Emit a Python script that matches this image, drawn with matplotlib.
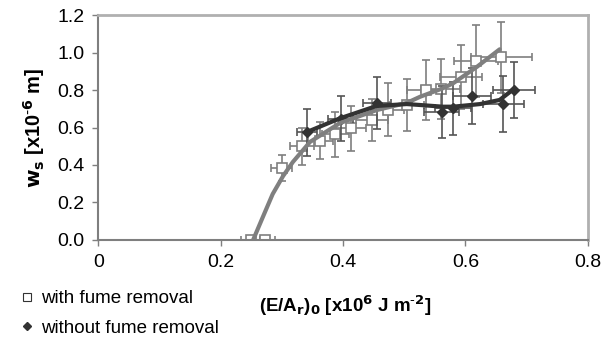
import matplotlib.pyplot as plt
from matplotlib.lines import Line2D

# with fume removal (open squares)
with_x = [0.249, 0.272, 0.300, 0.333, 0.363, 0.387, 0.413, 0.448, 0.473, 0.504, 0.536, 0.560, 0.593, 0.618, 0.659]
with_y = [0.0, 0.0, 0.385, 0.50, 0.53, 0.565, 0.595, 0.64, 0.695, 0.72, 0.80, 0.805, 0.87, 0.955, 0.975]
with_yerr = [0.0, 0.0, 0.07, 0.10, 0.10, 0.12, 0.12, 0.11, 0.14, 0.14, 0.16, 0.16, 0.17, 0.19, 0.19]
with_xerr = [0.015, 0.016, 0.017, 0.019, 0.021, 0.022, 0.024, 0.026, 0.027, 0.029, 0.031, 0.032, 0.034, 0.036, 0.05]

# without fume removal (filled diamonds)
without_x = [0.341, 0.396, 0.456, 0.561, 0.580, 0.611, 0.662, 0.679]
without_y = [0.575, 0.648, 0.732, 0.684, 0.702, 0.768, 0.725, 0.80]
without_yerr = [0.125, 0.12, 0.14, 0.14, 0.14, 0.15, 0.15, 0.15]
without_xerr = [0.017, 0.02, 0.023, 0.028, 0.029, 0.031, 0.033, 0.034]

# trend lines
trend_with_x = [0.253, 0.269, 0.285, 0.302, 0.318, 0.346, 0.395, 0.455, 0.504, 0.526, 0.563, 0.580, 0.619, 0.656]
trend_with_y = [0.0, 0.123, 0.245, 0.341, 0.416, 0.523, 0.624, 0.693, 0.731, 0.764, 0.809, 0.836, 0.924, 1.017]
trend_without_x = [0.341, 0.395, 0.455, 0.504, 0.526, 0.563, 0.580, 0.624, 0.656, 0.677]
trend_without_y = [0.576, 0.649, 0.715, 0.725, 0.720, 0.711, 0.711, 0.725, 0.747, 0.80]

x_ticks = [0, 0.2, 0.4, 0.6, 0.8]
x_ticklabels = ['0', '0.2', '0.4', '0.6', '0.8']
y_ticks = [0.0, 0.2, 0.4, 0.6, 0.8, 1.0, 1.2]

plt.rcParams['font.family'] = ['Liberation Sans', 'DejaVu Sans']
plt.rcParams['mathtext.default'] = 'regular'

fig = plt.figure(figsize=(6.08, 3.46), dpi=100)
ax = fig.add_axes([0.1617, 0.3064, 0.805, 0.6502])

gray = '#7f7f7f'
dark = '#333333'

ax.errorbar(with_x, with_y, yerr=with_yerr, xerr=with_xerr, fmt='s', ms=6.5,
            mfc='white', mec=gray, mew=1.2, ecolor=gray, elinewidth=1.2,
            capsize=3, capthick=1.2, zorder=2)
ax.errorbar(without_x, without_y, yerr=without_yerr, xerr=without_xerr, fmt='D', ms=5,
            mfc=dark, mec=dark, ecolor='#555555', elinewidth=1.2,
            capsize=3, capthick=1.2, zorder=3)
ax.plot(trend_with_x, trend_with_y, color=gray, lw=3, solid_capstyle='round', zorder=4)
ax.plot(trend_without_x, trend_without_y, color=dark, lw=3, solid_capstyle='round', zorder=5)

ax.set_xlim(0, 0.8)
ax.set_ylim(0, 1.2)
ax.set_xticks(x_ticks)
ax.set_xticklabels(x_ticklabels)
ax.set_yticks(y_ticks)
ax.set_yticklabels([f'{v:.1f}' for v in y_ticks])
ax.tick_params(direction='out', length=4, width=1, color=gray, labelsize=14, pad=6)

for s in ['top', 'right']:
    ax.spines[s].set_color('#b0b0b0')
    ax.spines[s].set_linewidth(2)
for s in ['left', 'bottom']:
    ax.spines[s].set_color(gray)
    ax.spines[s].set_linewidth(1.5)

ax.set_ylabel(r'$\mathbf{w_s}$ [x10$^{\mathbf{\text{-}6}}$ m]', fontsize=14.5, fontweight='bold', labelpad=7)
fig.text(0.568, 0.118, r'(E/A$_\mathbf{r}$)$_\mathbf{0}$ [x10$^\mathbf{6}$ J m$^{\mathbf{\text{-}2}}$]',
         fontsize=13.5, fontweight='bold', ha='center', va='center')

handles = [Line2D([], [], ls='none', marker='s', ms=6, mfc='white', mec=dark, mew=0.8),
           Line2D([], [], ls='none', marker='D', ms=4.5, mfc=dark, mec=dark)]
fig.legend(handles, ['with fume removal', 'without fume removal'], loc='upper left',
           bbox_to_anchor=(0.022, 0.183), frameon=False, fontsize=13.5,
           handlelength=0.6, handletextpad=0.5, labelspacing=0.65, borderaxespad=0)

fig.savefig('out.png', dpi=100)
